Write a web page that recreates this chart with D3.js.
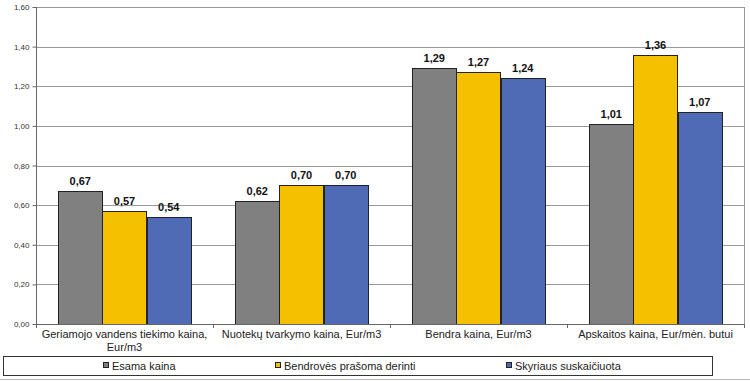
<!DOCTYPE html>
<html><head><meta charset="utf-8">
<script src="https://cdn.jsdelivr.net/npm/d3@7"></script>
<style>body{margin:0;background:#fff}svg{display:block;font-family:Arial,"Liberation Sans",sans-serif}</style>
</head><body><svg id="c" width="750" height="381"></svg>
<script>
const categories = [["Geriamojo vandens tiekimo kaina,","Eur/m3"],["Nuotekų tvarkymo kaina, Eur/m3"],["Bendra kaina, Eur/m3"],["Apskaitos kaina, Eur/mėn. butui"]];
const seriesNames = ["Esama kaina","Bendrovės prašoma derinti","Skyriaus suskaičiuota"];
const esama = [0.67,0.62,1.29,1.01];
const bendroves = [0.57,0.70,1.27,1.36];
const skyriaus = [0.54,0.70,1.24,1.07];
const yTicks = [0,0.2,0.4,0.6,0.8,1.0,1.2,1.4,1.6];
const colors = ["#808080","#F5C000","#4F6BB5"];

const series = [esama,bendroves,skyriaus];
const svg = d3.select("#c");
const L=36,R=744,T=7,B=324;
const x0 = d3.scaleBand().domain(d3.range(categories.length)).range([L,R]).paddingInner(0.25).paddingOuter(0.125);
const x1 = d3.scaleBand().domain(d3.range(series.length)).range([0,x0.bandwidth()]);
const y = d3.scaleLinear().domain([0,1.6]).range([B,T]);
const fmt = v => d3.format(".2f")(v).replace(".",",");

// gridlines
svg.append("g").selectAll("line").data(yTicks.filter(d=>d>0)).join("line")
  .attr("x1",L).attr("x2",R).attr("y1",d=>Math.round(y(d))+0.5).attr("y2",d=>Math.round(y(d))+0.5)
  .attr("stroke","#999").attr("stroke-width",1);
// right border
svg.append("line").attr("x1",R+0.5).attr("x2",R+0.5).attr("y1",T).attr("y2",B).attr("stroke","#999");

// y axis
const ya = svg.append("g").attr("transform",`translate(${L+0.5},0)`)
  .call(d3.axisLeft(y).tickValues(yTicks).tickFormat(fmt).tickSize(4).tickPadding(3));
ya.selectAll("path,line").attr("stroke","#666");
ya.select(".domain").attr("d",`M0,${T}V${B}`);
ya.selectAll("text").attr("font-size","8px").attr("fill","#333").attr("font-family","Arial");

// bars
const g = svg.append("g");
categories.forEach((c,i)=>{
  series.forEach((s,j)=>{
    const xx = x0(i)+x1(j);
    g.append("rect").attr("x",Math.round(xx)+0.5).attr("y",Math.round(y(s[i]))+0.5)
      .attr("width",Math.round(x1.bandwidth())).attr("height",Math.round(B-y(s[i])))
      .attr("fill",colors[j]).attr("stroke","#222").attr("stroke-width",1);
    g.append("text").attr("x",xx+x1.bandwidth()/2).attr("y",y(s[i])-6)
      .attr("text-anchor","middle").attr("font-size","11px").attr("font-weight","bold").attr("fill","#111")
      .text(fmt(s[i]));
  });
});

// x axis
svg.append("line").attr("x1",L).attr("x2",R+1).attr("y1",B+0.5).attr("y2",B+0.5).attr("stroke","#666");
const bounds = d3.range(categories.length+1).map(i=> i===categories.length? R : x0(i)-x0.step()*0.125);
svg.append("g").selectAll("line").data(bounds).join("line")
  .attr("x1",d=>Math.round(d)+0.5).attr("x2",d=>Math.round(d)+0.5).attr("y1",B).attr("y2",B+4).attr("stroke","#666");
categories.forEach((c,i)=>{
  const t = svg.append("text").attr("x",x0(i)+x0.bandwidth()/2).attr("y",338)
    .attr("text-anchor","middle").attr("font-size","11px").attr("fill","#222");
  c.forEach((line,k)=>t.append("tspan").attr("x",x0(i)+x0.bandwidth()/2).attr("dy",k?13:0).text(line));
});

// legend
svg.append("rect").attr("x",3.5).attr("y",356.5).attr("width",709).attr("height",19).attr("fill","#fff").attr("stroke","#333");
const lx = [103,275,506];
seriesNames.forEach((n,j)=>{
  svg.append("rect").attr("x",lx[j]+0.5).attr("y",362.5).attr("width",5).attr("height",5).attr("fill",colors[j]).attr("stroke","#222");
  svg.append("text").attr("x",lx[j]+9).attr("y",370).attr("font-size","11px").attr("fill","#222").text(n);
});
svg.append("line").attr("x1",0).attr("x2",750).attr("y1",379.5).attr("y2",379.5).attr("stroke","#bbb");
</script></body></html>
